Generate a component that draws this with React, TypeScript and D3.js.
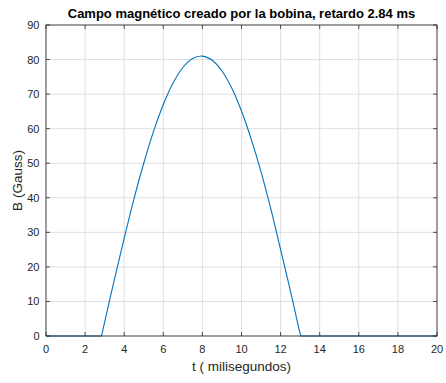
import React from "react";
import * as d3 from "d3";

// Magnetic field of the coil (Gauss) against time (ms)
const flatBeforeT = [0, 1, 2, 2.84];
const pulseT = [2.84, 3, 3.5, 4, 4.5, 5, 5.5, 6, 6.5, 7, 7.5, 8, 8.5, 9, 9.5, 10, 10.5, 11, 11.5, 12, 12.5, 13, 13.04];
const pulseB = [0, 4.0, 16.4, 28.3, 39.7, 50.0, 59.2, 67.0, 73.2, 77.7, 80.3, 81.0, 79.8, 76.7, 71.8, 65.1, 56.9, 47.5, 36.8, 25.0, 13.1, 0.7, 0];
const flatAfterT = [13.04, 14, 16, 18, 20];

const xTicks = [0, 2, 4, 6, 8, 10, 12, 14, 16, 18, 20];
const yTicks = [0, 10, 20, 30, 40, 50, 60, 70, 80, 90];

const W = 446;
const H = 383;
const m = { left: 46, right: 9, top: 25, bottom: 47 };

export default function App() {
  const x = d3.scaleLinear().domain([0, 20]).range([m.left, W - m.right]);
  const y = d3.scaleLinear().domain([0, 90]).range([H - m.bottom, m.top]);

  const straight = d3
    .line<[number, number]>()
    .x((d) => x(d[0]))
    .y((d) => y(d[1]));
  const smooth = d3
    .line<[number, number]>()
    .x((d) => x(d[0]))
    .y((d) => y(d[1]))
    .curve(d3.curveCatmullRom.alpha(0.5));

  const before: [number, number][] = flatBeforeT.map((t) => [t, 0]);
  const pulse: [number, number][] = pulseT.map((t, i) => [t, pulseB[i]]);
  const after: [number, number][] = flatAfterT.map((t) => [t, 0]);
  const d = (straight(before) || "") + (smooth(pulse) || "").replace(/^M/, "L") + (straight(after) || "").replace(/^M/, "L");

  const axisColor = "#262626";
  const gridColor = "#dfdfdf";
  const font = "'Liberation Sans', Arial, Helvetica, sans-serif";
  const x0 = m.left;
  const x1 = W - m.right;
  const y0 = H - m.bottom;
  const y1 = m.top;
  const tickLen = 4;

  return (
    <svg
      width={W}
      height={H}
      style={{ position: "absolute", left: 0, top: 0, background: "#fff" }}
      fontFamily={font}
    >
      <rect x={0} y={0} width={W} height={H} fill="#fff" />
      {/* grid */}
      {xTicks.map((t) => (
        <line key={"gx" + t} x1={x(t)} x2={x(t)} y1={y0} y2={y1} stroke={gridColor} strokeWidth={1} />
      ))}
      {yTicks.map((t) => (
        <line key={"gy" + t} x1={x0} x2={x1} y1={y(t)} y2={y(t)} stroke={gridColor} strokeWidth={1} />
      ))}
      {/* data */}
      <path d={d} fill="none" stroke="#0072BD" strokeWidth={1.1} strokeLinejoin="round" />
      {/* box */}
      <rect x={x0} y={y1} width={x1 - x0} height={y0 - y1} fill="none" stroke={axisColor} strokeWidth={0.8} />
      {/* ticks */}
      {xTicks.map((t) => (
        <g key={"tx" + t}>
          <line x1={x(t)} x2={x(t)} y1={y0} y2={y0 - tickLen} stroke={axisColor} strokeWidth={0.8} />
          <line x1={x(t)} x2={x(t)} y1={y1} y2={y1 + tickLen} stroke={axisColor} strokeWidth={0.8} />
          <text x={x(t)} y={y0 + 17} textAnchor="middle" fontSize={11} fill={axisColor}>
            {t}
          </text>
        </g>
      ))}
      {yTicks.map((t) => (
        <g key={"ty" + t}>
          <line x1={x0} x2={x0 + tickLen} y1={y(t)} y2={y(t)} stroke={axisColor} strokeWidth={0.8} />
          <line x1={x1} x2={x1 - tickLen} y1={y(t)} y2={y(t)} stroke={axisColor} strokeWidth={0.8} />
          <text x={x0 - 6.5} y={y(t) + 4} textAnchor="end" fontSize={11} fill={axisColor}>
            {t}
          </text>
        </g>
      ))}
      {/* labels */}
      <text x={(x0 + x1) / 2} y={18} textAnchor="middle" fontSize={13} fontWeight="bold" fill="#000">
        Campo magnético creado por la bobina, retardo 2.84 ms
      </text>
      <text x={(x0 + x1) / 2} y={371} textAnchor="middle" fontSize={13.5} fill={axisColor}>
        t ( milisegundos)
      </text>
      <text
        transform={`translate(22, ${(y0 + y1) / 2}) rotate(-90)`}
        textAnchor="middle"
        fontSize={13.5}
        fill={axisColor}
      >
        B (Gauss)
      </text>
    </svg>
  );
}
